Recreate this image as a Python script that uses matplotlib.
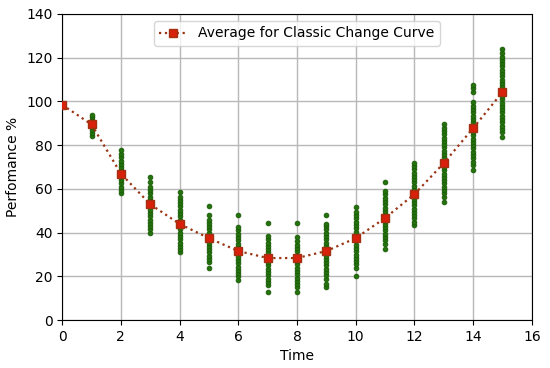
import matplotlib
matplotlib.use("Agg")
import matplotlib.pyplot as plt

# individual scores per time step
times = list(range(16))
scores = [
    [98.5],
    [84, 85.5, 87, 88.5, 90, 91.5, 93, 94],
    [58, 59.5, 61, 62.5, 64, 65.5, 67, 68.5, 70, 71.5, 73, 74.5, 76, 78],
    [40, 41.5, 43, 44.5, 46, 47.5, 49, 50.5, 52, 53.5, 55, 56.5, 58, 59.5, 61, 63, 65.5],
    [31, 32.5, 34, 35.5, 37, 38.5, 40, 41.5, 43, 44.5, 46, 47.5, 49, 50.5, 52, 53.5, 55, 56.5, 58.5],
    [24, 26.5, 28, 29.5, 31, 32.5, 34, 35.5, 37, 38.5, 40, 41.5, 43, 44.5, 46, 48, 52],
    [18.3, 20, 21.5, 23, 24.5, 26, 27.5, 29, 30.5, 32, 33.5, 35, 36.5, 38, 39.5, 41, 42.5, 48],
    [12.8, 16, 17.5, 19, 20.5, 22, 23.5, 25, 26.5, 28, 29.5, 31, 32.5, 34, 35.5, 37, 38.4, 44.4],
    [12.8, 15, 16.5, 18, 19.5, 21, 22.5, 24, 25.5, 27, 28.5, 30, 31.5, 33, 34.5, 36, 38, 44.4],
    [15, 16.5, 19, 20.5, 22, 23.5, 25, 26.5, 28, 29.5, 31, 32.5, 34, 35.5, 37, 38.5, 40, 41.5, 43, 44, 48],
    [20, 24, 25.5, 27, 28.5, 30, 31.5, 33, 34.5, 36, 37.5, 39, 40.5, 42, 43.5, 45, 46.5, 48, 49.4, 51.7],
    [32.5, 35, 36.5, 38, 39.5, 41, 42.5, 44, 45.5, 47, 48.5, 50, 51.5, 53, 54.5, 56, 57.5, 59, 63],
    [43.5, 45, 46.5, 48, 49.5, 51, 52.5, 54, 55.5, 57, 58.5, 60, 61.5, 63, 64.5, 66, 67.5, 69, 70.5, 71.8],
    [54, 56.3, 58, 59.5, 61, 62.5, 64, 65.5, 67, 68.5, 70, 71.5, 73, 74.5, 76, 77.5, 79, 80.5, 82, 83.5, 85, 86.5, 88, 89.7],
    [68.6, 71, 72.5, 74, 75.5, 77, 78.5, 80, 81.5, 83, 84.5, 86, 87.5, 89, 90.5, 92, 93.5, 95, 96.5, 98, 99.7, 104.3, 106, 107.5],
    [83.7, 86, 87.5, 89, 90.5, 92, 93.5, 95, 96.5, 98, 99.5, 101, 102.5, 104, 105.5, 107, 108.5, 110, 111.5, 113, 114.5, 116, 117.5, 119, 120.5, 122, 124],
]
avg = [98.5, 89.5, 67, 53, 44, 37.5, 31.6, 28.4, 28.4, 31.6, 37.5, 46.7, 57.6, 71.8, 87.8, 104.3]

fig = plt.figure(figsize=(5.5, 3.68), dpi=100)
ax = fig.add_axes([0.113, 0.130, 0.854, 0.832])

for t, vals in zip(times, scores):
    ax.plot([t] * len(vals), vals, 'o', color='#23720c', markeredgecolor='#1a5a08',
            markersize=3.4, markeredgewidth=0.6, zorder=2)

ax.plot(times, avg, ':', color='#9a3412', linewidth=1.6, marker='s', markersize=5.8,
        markerfacecolor='#d8200a', markeredgecolor='#a33010', zorder=3,
        label='Average for Classic Change Curve')

ax.set_xlim(0, 16)
ax.set_ylim(0, 140)
ax.set_xticks(range(0, 17, 2))
ax.set_yticks(range(0, 141, 20))
ax.grid(True, color='#b8b8b8', linewidth=1)
ax.set_axisbelow(True)
ax.set_xlabel('Time')
ax.set_ylabel('Perfomance %')
ax.legend(loc='upper center', fontsize=10)

fig.savefig('out.png', dpi=100)
